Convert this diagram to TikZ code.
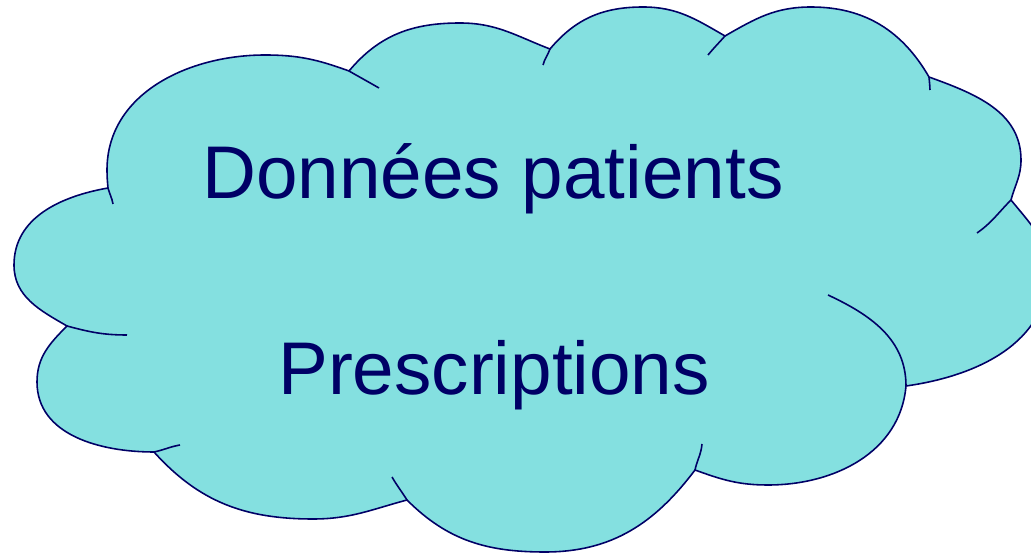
\documentclass[tikz,border=0pt]{standalone}
\usepackage{fontspec}
\setmainfont{Liberation Sans}
\usepackage{xcolor}
\usepackage{tikz}
\definecolor{cloudcyan}{RGB}{132, 224, 224}
\definecolor{cloudnavy}{RGB}{0, 0, 102}

\begin{document}
\begin{tikzpicture}[x=0.02cm, y=-0.02cm]
    \useasboundingbox (0,0) rectangle (1031,553);
    \clip (0,0) rectangle (1031,553);
    % joints between the bumps
    \coordinate (J1) at (108,188);
    \coordinate (J2) at (67,326);
    \coordinate (J3) at (154,452);
    \coordinate (J4) at (407,500);
    \coordinate (J5) at (695,470);
    \coordinate (J6) at (906,386);
    \coordinate (J7) at (1011,200);
    \coordinate (J8) at (929,77);
    \coordinate (J9) at (725,36);
    \coordinate (J10) at (550,49);
    \coordinate (J11) at (349,71);
    % loose ends of the inner strokes
    \coordinate (T1) at (113,204);
    \coordinate (T2) at (127,335);
    \coordinate (T3) at (180,445);
    \coordinate (T4) at (392,477);
    \coordinate (T5) at (702,444);
    \coordinate (T6) at (828,295);
    \coordinate (T7) at (977,233);
    \coordinate (T8) at (930,90);
    \coordinate (T9) at (708,55);
    \coordinate (T10) at (543,65);
    \coordinate (T11) at (379,88);
    \filldraw[cloudnavy, fill=cloudcyan, line width=0.9pt]
        (J1) to[out=190,in=90] (14,265) to[out=270,in=150] (J2)
        to[out=225,in=90] (37,382) to[out=270,in=180] (J3)
        to[out=312,in=180] (313,519) to[out=0,in=195] (J4)
        to[out=315,in=180] (545,552) to[out=0,in=233] (J5)
        to[out=340,in=180] (768,485) to[out=0,in=265] (J6)
        to[out=8,in=270] (1048,272) to[out=90,in=309] (J7)
        to[out=75,in=270] (1021,160) to[out=90,in=340] (J8)
        to[out=120,in=0] (811,7) to[out=180,in=30] (J9)
        to[out=150,in=0] (643,7) to[out=180,in=50] (J10)
        to[out=159,in=0] (460,23) to[out=180,in=50] (J11)
        to[out=160,in=0] (265,55) to[out=180,in=90] (107,170)
        to[out=270,in=95] (J1) -- cycle;
    \foreach \j/\t/\o/\i in {J1/T1/285/100, J2/T2/345/180, J3/T3/12/190,
                             J4/T4/122/300, J5/T5/78/265, J6/T6/90/335,
                             J7/T7/225/35, J8/T8/275/92, J9/T9/228/50,
                             J10/T10/250/75, J11/T11/330/150}
        \draw[cloudnavy, line width=0.9pt] (\j) to[out=\o,in=\i] (\t);
    \node[cloudnavy, anchor=base, inner sep=0pt,
          font=\fontsize{42.5pt}{50pt}\selectfont] (donnees) at (493,199)
        {Données patients};
    \node[cloudnavy, anchor=base, inner sep=0pt,
          font=\fontsize{42.5pt}{50pt}\selectfont] (prescriptions) at (494,395)
        {Prescriptions};
\end{tikzpicture}
\end{document}
